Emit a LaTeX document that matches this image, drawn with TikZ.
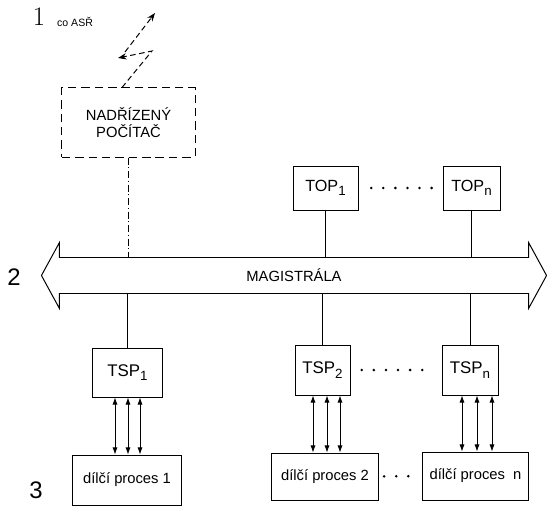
\documentclass[tikz,border=0pt]{standalone}
\usepackage{fontspec}
\newfontfamily\diagfont{Liberation Sans}
\usetikzlibrary{arrows.meta}
\newcommand\idx[1]{\raisebox{-0.5ex}{\fontsize{9.5}{10}\selectfont #1}}

\begin{document}
\begin{tikzpicture}[x=0.025cm, y=-0.025cm, line width=0.7pt,
  blok/.style={draw, inner sep=0pt, font=\diagfont\fontsize{10.5}{12.5}\selectfont},
  tecky/.style={line width=2pt, dash pattern=on 0pt off 8.6pt, line cap=round},
  sipka/.style={{Latex[length=5pt,width=3.6pt]}-{Latex[length=5pt,width=3.6pt]}, line width=0.6pt},
  blesk/.style={dash pattern=on 4pt off 2.5pt, -{Stealth[length=6pt,width=4.5pt]}},
  cislo/.style={font=\diagfont\fontsize{17}{19}\selectfont}]
  \useasboundingbox (0,0) rectangle (547,506);
  % superior computer
  \node[blok, dash pattern=on 6pt off 3.5pt, minimum width=3.325cm, minimum height=1.725cm,
        align=center] (pc) at (128.5,122.5) {NADŘÍZENÝ\\POČÍTAČ};
  \node[font=\rmfamily\fontsize{19}{21}\selectfont] (jedna) at (39,17) {1};
  \node[anchor=west, font=\diagfont\fontsize{7.5}{9}\selectfont] (asr) at (52,22) {co ASŘ};
  % lightning to the next level
  \coordinate (z1) at (152,51);
  \coordinate (z2) at (118,58);
  \coordinate (z3) at (155,13);
  \draw[blesk] (pc.north -| 122,0) -- (z1) -- (z2);
  \draw[blesk] (125,52) -- (z3);
  % operator stations
  \node[blok, font=\diagfont\fontsize{11.5}{13}\selectfont, minimum width=1.625cm, minimum height=1.1cm] (top1) at (325.5,188) {TOP\idx{1}};
  \node[blok, font=\diagfont\fontsize{11.5}{13}\selectfont, minimum width=1.425cm, minimum height=1.1cm] (topn) at (471.5,188) {TOP\idx{n}};
  \draw[tecky, shorten <=9pt, shorten >=5pt] (top1.east) -- (topn.west);
  % bus
  \node[minimum width=11.7cm, minimum height=0.875cm, inner sep=0pt,
        font=\diagfont\fontsize{10.5}{12.5}\selectfont] (bus) at (294,275.5) {MAGISTRÁLA};
  \draw (bus.north west) -- (bus.north east) -- ([yshift=0.375cm]bus.north east)
    -- ([xshift=0.45cm]bus.east) -- ([yshift=-0.375cm]bus.south east) -- (bus.south east)
    -- (bus.south west) -- ([yshift=-0.375cm]bus.south west) -- ([xshift=-0.45cm]bus.west)
    -- ([yshift=0.375cm]bus.north west) -- cycle;
  \node[cislo] (dva) at (14,277) {2};
  \draw[dash pattern=on 5pt off 2pt on 0.6pt off 2pt] (pc.south) -- (pc.south |- bus.north);
  \draw (top1.south) -- (top1.south |- bus.north);
  \draw (topn.south) -- (topn.south |- bus.north);
  % process stations
  \node[blok, font=\diagfont\fontsize{12}{14}\selectfont, minimum width=1.725cm, minimum height=1.225cm] (tsp1) at (127.5,372.5) {TSP\idx{1}};
  \node[blok, font=\diagfont\fontsize{12}{14}\selectfont, minimum width=1.375cm, minimum height=1.25cm] (tsp2) at (322.5,370) {TSP\idx{2}};
  \node[blok, font=\diagfont\fontsize{12}{14}\selectfont, minimum width=1.4cm, minimum height=1.25cm] (tspn) at (470,370) {TSP\idx{n}};
  \draw[tecky, shorten <=8pt, shorten >=7pt] (tsp2.east) -- (tspn.west);
  \foreach \t in {tsp1,tsp2,tspn}{ \draw (\t.north) -- (\t.north |- bus.south); }
  % sub-processes
  \node[blok, minimum width=2.7cm, minimum height=1.25cm] (proc1) at (127,480) {dílčí proces 1};
  \node[blok, minimum width=2.65cm, minimum height=1.175cm] (proc2) at (325,476.5) {dílčí proces 2};
  \node[blok, minimum width=2.625cm, minimum height=1.2cm] (procn) at (475.5,476) {dílčí proces\ \ n};
  \draw[tecky, shorten <=4pt, shorten >=4pt] (proc2.east) -- (procn.west);
  \node[cislo] (tri) at (36,490) {3};
  % signal links
  \foreach \x in {115,128,140}{ \draw[sipka] (\x,0 |- tsp1.south) -- (\x,0 |- proc1.north); }
  \foreach \x in {313,327,340}{ \draw[sipka] (\x,0 |- tsp2.south) -- (\x,0 |- proc2.north); }
  \foreach \x in {462,477,492}{ \draw[sipka] (\x,0 |- tspn.south) -- (\x,0 |- procn.north); }
\end{tikzpicture}
\end{document}
